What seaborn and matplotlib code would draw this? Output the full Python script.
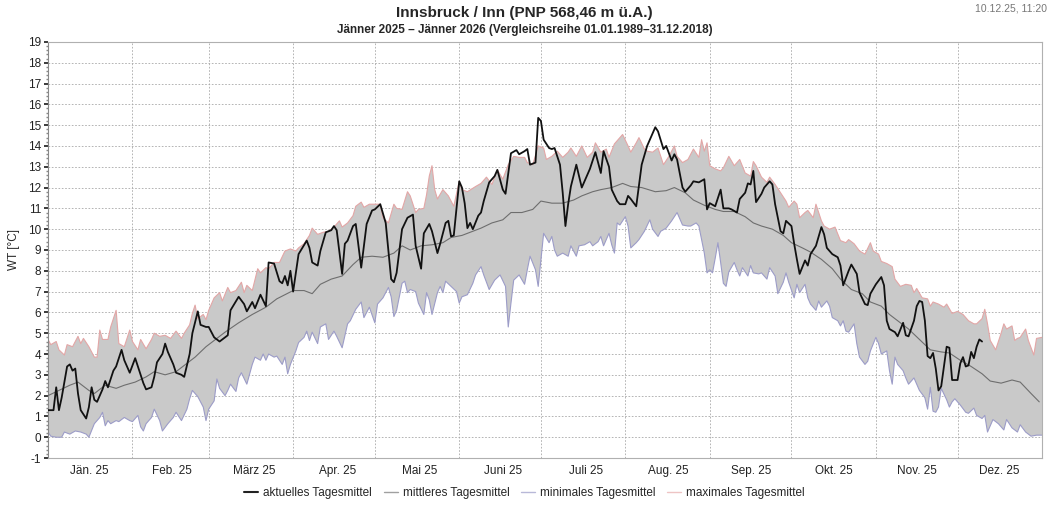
import seaborn as sns
import matplotlib.pyplot as plt
import matplotlib.dates as mdates
from matplotlib.ticker import MultipleLocator
from matplotlib.lines import Line2D
import pandas as pd
import numpy as np

sns.set_theme(style="white")
plt.rcParams['font.family'] = ['Liberation Sans Narrow', 'Liberation Sans', 'DejaVu Sans']
plt.rcParams['axes.unicode_minus'] = False

# --- Daten: Tag des Jahres (0 = 01.01.2025) und Wassertemperatur [°C] ---
akt_tag = [0, 2, 3, 4, 5, 7, 8, 9, 10, 11, 12, 14, 15, 16, 17, 18, 20, 21, 22, 24, 25, 27, 28, 30, 32, 33, 35, 36, 38, 39,
           40, 42, 43, 44, 46, 47, 49, 50, 52, 53, 55, 56, 58, 59, 61, 63, 64, 66, 67, 70, 72, 73, 75, 76, 78, 80, 81, 83,
           85, 86, 87, 88, 89, 90, 92, 95, 96, 97, 99, 100, 102, 104, 105, 106, 108, 109, 110, 112, 113, 115, 117, 119,
           120, 122, 124, 125, 126, 127, 128, 130, 132, 134, 135, 137, 138, 140, 141, 143, 144, 146, 147, 148, 149, 151,
           152, 153, 154, 155, 156, 158, 159, 160, 162, 164, 165, 167, 168, 170, 172, 173, 175, 176, 177, 179, 180, 181,
           182, 184, 185, 186, 188, 189, 190, 191, 192, 194, 196, 199, 201, 203, 204, 206, 207, 209, 210, 212, 213, 214,
           216, 218, 220, 223, 224, 226, 227, 229, 230, 231, 233, 234, 236, 237, 239, 241, 242, 243, 245, 247, 248, 250,
           251, 253, 254, 256, 257, 258, 259, 260, 262, 263, 265, 266, 267, 268, 269, 270, 271, 273, 274, 275, 276, 278,
           279, 280, 282, 284, 285, 286, 288, 290, 291, 292, 294, 295, 297, 298, 300, 301, 302, 304, 306, 307, 308, 309,
           311, 312, 314, 315, 316, 318, 319, 320, 321, 322, 323, 324, 325, 326, 327, 328, 329, 330, 331, 332, 333, 334,
           335, 336, 337, 338, 339, 340, 341, 342, 343]
akt_wert = [1.3, 1.3, 2.4, 1.3, 1.9, 3.4, 3.5, 3.2, 3.3, 2.1, 1.3, 0.9, 1.45, 2.4, 1.8, 1.7, 2.3, 2.7, 2.4, 3.2, 3.4, 4.2,
            3.7, 3.1, 3.8, 3.4, 2.6, 2.3, 2.4, 2.9, 3.6, 4.0, 4.5, 4.1, 3.5, 3.1, 3.0, 2.9, 4.0, 5.0, 6.05, 5.4, 5.3, 5.3,
            4.8, 4.6, 4.7, 4.9, 6.1, 6.75, 6.4, 6.05, 6.5, 6.2, 6.85, 6.3, 8.4, 8.35, 7.5, 7.4, 7.75, 7.3, 8.0, 7.0, 8.8,
            9.45, 9.1, 8.4, 8.25, 8.95, 9.85, 9.95, 10.15, 9.95, 7.85, 9.3, 9.45, 10.15, 10.25, 8.15, 10.25, 10.9, 10.95,
            11.2, 10.3, 8.95, 7.6, 7.45, 7.9, 10.0, 10.55, 10.7, 9.2, 8.1, 9.8, 10.25, 9.9, 8.85, 9.3, 10.3, 10.4, 9.65,
            9.7, 12.3, 12.0, 11.25, 10.05, 10.3, 10.0, 10.65, 10.8, 11.35, 12.25, 12.55, 12.85, 11.9, 11.7, 13.65, 13.8,
            13.6, 13.75, 13.85, 13.1, 13.2, 15.35, 15.2, 14.3, 13.9, 13.85, 13.9, 13.1, 11.75, 10.15, 11.2, 12.05, 13.1,
            12.0, 12.9, 13.7, 12.7, 13.75, 13.0, 11.9, 11.35, 11.2, 11.2, 11.6, 11.45, 11.1, 13.1, 14.0, 14.9, 14.7,
            13.85, 14.0, 13.3, 13.6, 13.35, 12.0, 11.8, 12.1, 12.3, 12.25, 12.4, 10.95, 11.25, 11.1, 11.9, 11.0, 11.0,
            10.95, 10.8, 11.45, 11.75, 12.2, 12.15, 12.8, 11.3, 11.7, 12.0, 12.3, 12.15, 11.2, 10.55, 9.9, 9.8, 10.4,
            10.15, 9.3, 8.55, 7.85, 8.5, 8.25, 8.8, 9.2, 10.1, 9.75, 9.1, 8.8, 8.65, 8.25, 7.3, 8.0, 8.3, 7.85, 6.95, 6.4,
            6.35, 6.9, 7.35, 7.7, 7.3, 5.6, 5.2, 5.05, 4.85, 5.5, 4.9, 4.85, 5.6, 6.3, 6.55, 6.5, 5.6, 3.9, 3.8, 4.05,
            3.3, 2.25, 2.45, 3.4, 4.35, 4.3, 2.75, 2.75, 2.75, 3.55, 3.85, 3.4, 3.45, 4.1, 3.8, 4.35, 4.7, 4.6]

mit_tag = [0, 4, 8, 11, 15, 17, 21, 25, 28, 32, 36, 39, 43, 47, 50, 54, 58, 62, 65, 70, 75, 80, 84, 90, 94, 97, 100, 104,
           108, 112, 115, 119, 123, 127, 130, 133, 137, 141, 145, 148, 152, 156, 159, 163, 167, 170, 174, 178, 181, 185,
           189, 193, 196, 200, 203, 207, 211, 214, 218, 223, 227, 230, 234, 237, 241, 245, 248, 252, 256, 259, 262, 266,
           270, 273, 277, 280, 284, 288, 291, 295, 299, 302, 306, 309, 313, 316, 320, 324, 328, 331, 335, 339, 343, 346,
           350, 354, 357, 361, 364]
mit_wert = [2.0, 2.25, 2.5, 2.65, 2.25, 2.1, 2.5, 2.35, 2.5, 2.65, 2.9, 3.15, 3.0, 3.15, 3.45, 3.85, 4.35, 4.75, 5.05,
            5.5, 5.9, 6.25, 6.65, 7.05, 7.05, 6.9, 7.35, 7.6, 7.75, 8.3, 8.65, 8.7, 8.65, 8.85, 9.2, 9.0, 9.2, 9.25, 9.35,
            9.6, 9.7, 9.9, 10.05, 10.3, 10.45, 10.8, 10.8, 10.95, 11.35, 11.25, 11.25, 11.4, 11.6, 11.8, 11.9, 12.0, 12.2,
            12.05, 12.0, 11.8, 11.85, 12.0, 11.75, 11.4, 11.15, 10.95, 10.85, 10.85, 10.6, 10.3, 10.15, 10.0, 9.7, 9.35,
            9.1, 8.9, 8.55, 8.1, 7.6, 7.1, 6.9, 6.5, 6.3, 5.9, 5.5, 5.2, 4.7, 4.2, 4.1, 4.05, 3.7, 3.4, 3.05, 2.7, 2.6,
            2.75, 2.65, 2.1, 1.7]

max_tag = [0, 1, 3, 4, 6, 7, 9, 11, 12, 13, 15, 17, 18, 19, 20, 22, 23, 25, 26, 28, 30, 31, 33, 34, 36, 38, 39, 41, 43,
           45, 47, 49, 50, 52, 53, 54, 55, 57, 58, 59, 61, 63, 64, 66, 67, 69, 71, 72, 73, 75, 77, 78, 80, 81, 83, 85, 87,
           89, 91, 92, 94, 96, 97, 99, 101, 103, 105, 107, 108, 110, 112, 113, 115, 116, 118, 120, 122, 123, 125, 127, 128,
           130, 132, 133, 135, 136, 138, 139, 140, 141, 142, 143, 145, 147, 149, 151, 152, 154, 157, 159, 161, 163, 165,
           167, 169, 171, 173, 175, 176, 178, 180, 182, 183, 185, 187, 189, 191, 192, 194, 196, 198, 200, 201, 203, 205,
           206, 208, 210, 211, 213, 214, 216, 217, 219, 220, 222, 224, 226, 228, 230, 231, 233, 235, 237, 239, 240, 241,
           242, 243, 245, 247, 248, 250, 252, 254, 256, 258, 259, 260, 262, 264, 265, 267, 269, 271, 272, 274, 275, 276,
           278, 279, 281, 282, 284, 285, 287, 289, 291, 293, 294, 296, 298, 300, 302, 303, 305, 306, 308, 310, 311, 313,
           315, 317, 318, 319, 321, 323, 324, 325, 327, 329, 330, 332, 334, 336, 338, 340, 341, 343, 344, 345, 346, 348,
           350, 351, 352, 354, 355, 356, 357, 359, 360, 362, 363, 365]
max_wert = [4.7, 4.45, 4.6, 4.2, 3.95, 4.45, 4.35, 4.85, 4.5, 4.75, 4.35, 3.85, 3.85, 5.15, 4.7, 4.7, 5.3, 6.1, 4.5, 4.35,
            5.15, 4.6, 4.2, 4.7, 4.25, 4.7, 5.0, 4.85, 4.9, 4.75, 5.1, 4.75, 5.0, 5.4, 5.95, 6.35, 5.7, 5.9, 5.65, 6.1,
            6.7, 6.95, 6.55, 7.2, 6.95, 7.05, 7.45, 6.95, 7.3, 7.05, 8.1, 7.9, 8.15, 8.1, 8.4, 8.4, 8.95, 9.05, 8.95, 9.1,
            9.3, 9.7, 10.05, 9.75, 9.85, 9.9, 10.1, 10.4, 10.1, 10.3, 10.65, 11.1, 11.3, 11.05, 11.2, 11.2, 11.2, 10.55,
            10.3, 11.2, 11.0, 10.95, 11.8, 11.6, 10.8, 10.95, 11.0, 11.65, 12.55, 13.05, 11.9, 11.45, 11.9, 11.6, 11.1,
            12.3, 11.9, 11.8, 12.05, 12.2, 12.5, 12.15, 12.85, 12.4, 13.1, 13.5, 13.45, 13.45, 13.2, 13.1, 14.0, 13.9,
            13.35, 13.5, 13.75, 13.45, 13.7, 13.9, 13.5, 14.0, 13.45, 13.7, 14.15, 13.7, 13.85, 13.45, 14.1, 14.4, 14.55,
            14.0, 13.7, 14.15, 14.4, 13.85, 13.75, 13.7, 13.9, 13.1, 13.5, 14.0, 13.5, 13.2, 13.35, 13.85, 13.45, 14.3,
            13.75, 14.15, 13.05, 12.9, 12.8, 12.95, 13.5, 13.05, 13.35, 12.7, 12.55, 13.25, 13.05, 12.5, 12.25, 12.5,
            12.15, 11.75, 11.35, 11.05, 11.35, 11.2, 10.55, 10.8, 10.9, 10.55, 11.2, 10.4, 10.15, 10.0, 10.1, 9.45, 9.35,
            9.5, 9.3, 8.95, 8.8, 9.35, 8.95, 8.8, 8.45, 8.35, 8.2, 7.6, 7.25, 7.35, 7.3, 6.95, 7.15, 6.7, 6.65, 6.3, 6.5,
            6.4, 6.25, 6.4, 5.95, 6.05, 5.9, 5.6, 5.45, 5.45, 5.7, 6.15, 5.45, 4.65, 4.2, 5.0, 5.45, 5.2, 5.35, 4.65,
            4.75, 4.8, 5.2, 4.65, 3.95, 4.75, 4.8]

min_tag = [0, 1, 3, 5, 6, 8, 10, 12, 14, 15, 17, 19, 20, 21, 22, 23, 25, 26, 28, 30, 31, 33, 34, 35, 36, 38, 39, 41, 42,
           44, 46, 47, 49, 51, 52, 53, 55, 57, 58, 59, 61, 62, 63, 65, 66, 67, 69, 70, 71, 73, 75, 76, 78, 79, 80, 81, 83,
           84, 86, 87, 88, 89, 91, 92, 94, 95, 96, 97, 99, 100, 102, 103, 105, 106, 108, 110, 111, 113, 115, 116, 118,
           120, 121, 123, 125, 126, 127, 128, 130, 131, 132, 133, 135, 136, 138, 139, 140, 141, 143, 144, 145, 146, 148,
           150, 151, 152, 154, 156, 157, 159, 160, 162, 164, 166, 168, 169, 170, 171, 173, 175, 176, 177, 179, 180, 181,
           182, 184, 185, 186, 187, 189, 191, 192, 194, 195, 197, 199, 200, 202, 203, 204, 206, 207, 208, 209, 210, 212,
           213, 214, 216, 217, 219, 221, 222, 224, 225, 227, 229, 231, 233, 235, 236, 238, 239, 241, 242, 243, 244, 245,
           246, 247, 248, 249, 250, 252, 253, 254, 255, 257, 258, 259, 261, 262, 264, 265, 267, 268, 270, 271, 272, 274,
           275, 276, 278, 279, 280, 282, 283, 284, 286, 287, 288, 290, 291, 292, 293, 294, 296, 297, 298, 300, 301, 302,
           304, 305, 306, 308, 309, 310, 311, 312, 314, 315, 316, 318, 319, 320, 322, 323, 324, 325, 326, 327, 328, 330,
           331, 332, 333, 335, 337, 338, 340, 341, 343, 344, 345, 347, 349, 351, 352, 354, 356, 357, 359, 361, 363, 365]
min_wert = [0.25, 0.05, 0.0, 0.0, 0.25, 0.15, 0.3, 0.25, 0.15, 0.0, 0.65, 0.95, 1.2, 0.55, 0.8, 0.65, 0.8, 0.75, 0.95,
            0.8, 0.75, 1.05, 0.5, 0.3, 0.65, 0.95, 1.35, 0.8, 0.3, 0.65, 0.95, 1.2, 0.8, 1.35, 1.85, 2.25, 1.95, 1.45, 0.8,
            1.35, 1.75, 2.8, 2.35, 2.0, 2.25, 2.55, 2.2, 2.85, 3.1, 2.55, 3.5, 3.85, 3.7, 4.0, 3.7, 4.0, 3.85, 3.9, 3.5,
            3.85, 3.05, 3.5, 4.15, 4.55, 4.8, 5.1, 4.65, 5.05, 4.5, 5.3, 5.45, 4.7, 5.1, 4.85, 4.3, 5.45, 5.6, 6.15, 6.5,
            5.75, 6.25, 5.5, 6.4, 6.7, 7.2, 6.75, 5.8, 6.1, 7.4, 7.5, 6.95, 7.1, 7.0, 6.45, 5.9, 6.95, 6.6, 5.9, 6.95,
            7.25, 6.95, 7.5, 7.25, 7.0, 6.45, 6.75, 6.85, 7.4, 7.8, 8.2, 7.8, 7.1, 7.55, 7.8, 7.25, 5.3, 6.45, 7.55, 7.8,
            7.35, 8.05, 8.7, 8.05, 7.25, 8.55, 9.8, 9.35, 9.65, 9.0, 8.7, 8.85, 8.7, 9.2, 8.7, 9.2, 9.25, 9.4, 9.2, 9.4,
            9.65, 9.2, 9.8, 9.25, 8.85, 10.3, 10.2, 10.6, 10.15, 9.1, 9.35, 9.5, 9.9, 10.45, 10.0, 9.65, 9.9, 10.05, 10.4,
            10.8, 10.2, 10.15, 10.15, 10.3, 10.15, 8.85, 7.9, 8.05, 7.9, 8.6, 9.35, 8.4, 7.4, 7.25, 7.95, 8.4, 8.05, 7.75,
            8.15, 7.75, 8.25, 7.9, 7.85, 7.9, 7.6, 8.15, 7.75, 6.9, 7.45, 7.9, 7.45, 6.7, 7.35, 6.95, 7.35, 6.7, 6.4, 6.1,
            6.55, 6.25, 6.55, 6.3, 5.75, 5.6, 5.35, 5.6, 5.1, 5.05, 5.45, 4.5, 3.85, 3.5, 3.65, 4.15, 4.8, 4.5, 4.0, 4.15,
            3.2, 2.55, 3.85, 3.5, 3.2, 2.85, 2.55, 2.85, 2.55, 2.25, 1.9, 1.35, 2.4, 1.25, 1.2, 1.45, 2.35, 1.8, 1.45,
            1.7, 1.85, 1.55, 1.2, 1.15, 1.4, 1.05, 0.9, 1.05, 0.25, 0.85, 0.65, 0.35, 0.85, 0.45, 0.25, 0.6, 0.25, 0.05,
            0.1, 0.1]

monate = ["Jän. 25", "Feb. 25", "März 25", "Apr. 25", "Mai 25", "Juni 25",
          "Juli 25", "Aug. 25", "Sep. 25", "Okt. 25", "Nov. 25", "Dez. 25"]

start = pd.Timestamp("2025-01-01")
def datum(tage):
    return start + pd.to_timedelta(tage, unit="D")

akt = pd.DataFrame({"datum": datum(akt_tag), "wt": akt_wert})
mit = pd.DataFrame({"datum": datum(mit_tag), "wt": mit_wert})
mx = pd.DataFrame({"datum": datum(max_tag), "wt": max_wert})
mn = pd.DataFrame({"datum": datum(min_tag), "wt": min_wert})

fig = plt.figure(figsize=(10.49, 5.05), dpi=100)
ax = fig.add_axes([0.0458, 0.093, 0.9475, 0.824])

# Band zwischen minimalem und maximalem Tagesmittel
band_x = list(mx["datum"]) + list(mn["datum"][::-1])
band_y = list(mx["wt"]) + list(mn["wt"][::-1])
ax.fill(band_x, band_y, color="#c9c9c9", lw=0, zorder=1)

sns.lineplot(data=mx, x="datum", y="wt", ax=ax, color="#e3a6a6", lw=0.8, zorder=2)
sns.lineplot(data=mn, x="datum", y="wt", ax=ax, color="#9c9cc8", lw=0.8, zorder=2)
sns.lineplot(data=mit, x="datum", y="wt", ax=ax, color="#6e6e6e", lw=0.8, zorder=3)
sns.lineplot(data=akt, x="datum", y="wt", ax=ax, color="#111111", lw=1.3, zorder=4)

ax.set_xlim(start, pd.Timestamp("2026-01-01"))
ax.set_ylim(-1, 19)
ax.yaxis.set_major_locator(MultipleLocator(1))
ax.yaxis.set_minor_locator(MultipleLocator(0.2))

# Monatsgrenzen als Gitter, Beschriftung in der Monatsmitte
ax.xaxis.set_major_locator(mdates.MonthLocator())
ax.xaxis.set_major_formatter(plt.NullFormatter())
ax.set_xticks(datum([15 + 30.4 * i for i in range(12)]), minor=True)
ax.set_xticklabels(monate, minor=True)

ax.grid(True, which="major", color="#a8a8a8", lw=0.6, ls=(0, (2, 2)))
for l in ax.get_xgridlines() + ax.get_ygridlines():
    l.set_zorder(0.5)

ax.tick_params(axis="x", which="major", length=0)
ax.tick_params(axis="x", which="minor", length=0, labelsize=8.5, pad=5, colors="#222222")
ax.tick_params(axis="y", which="major", length=3, labelsize=8.5, pad=2, colors="#222222", left=True)
ax.tick_params(axis="y", which="minor", length=1.5, left=True, color="#888888")
for s in ax.spines.values():
    s.set_color("#b0b0b0")
    s.set_linewidth(0.8)
ax.spines["left"].set_color("#888888")

ax.set_xlabel("")
ax.set_ylabel("WT [°C]", fontsize=8.5, labelpad=6)

fig.text(0.5, 0.975, "Innsbruck / Inn (PNP 568,46 m ü.A.)", ha="center", va="center",
         fontsize=11, fontweight="bold")
fig.text(0.5, 0.940, "Jänner 2025 – Jänner 2026 (Vergleichsreihe 01.01.1989–31.12.2018)",
         ha="center", va="center", fontsize=8.5, fontweight="bold")
fig.text(0.998, 0.983, "10.12.25, 11:20", ha="right", va="center", fontsize=7.5, color="#777777")

griffe = [Line2D([], [], color="#222222", lw=1.5),
          Line2D([], [], color="#a0a0a0", lw=1.0),
          Line2D([], [], color="#b8b8d8", lw=1.0),
          Line2D([], [], color="#eec4c4", lw=1.0)]
fig.legend(griffe, ["aktuelles Tagesmittel", "mittleres Tagesmittel", "minimales Tagesmittel",
                    "maximales Tagesmittel"], loc="center", bbox_to_anchor=(0.5, 0.024), ncol=4,
           frameon=False, fontsize=8.5, handlelength=1.2, handletextpad=0.4, columnspacing=1.0)

fig.savefig("out.png", dpi=100)
